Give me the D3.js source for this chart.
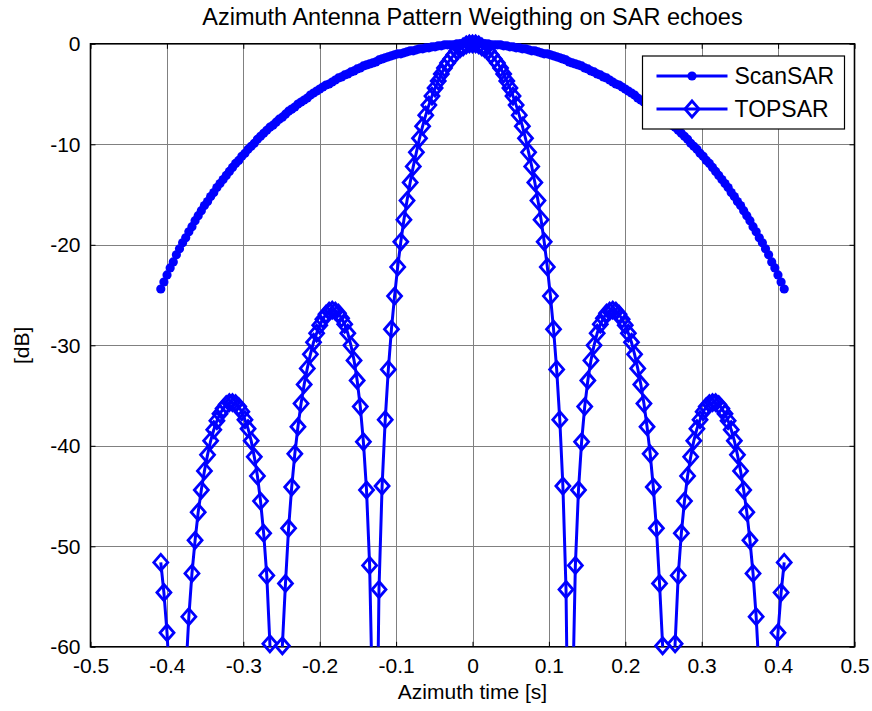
<!DOCTYPE html>
<html>
<head>
<meta charset="utf-8">
<script src="https://d3js.org/d3.v7.min.js"></script>
<style>
body{margin:0;background:#fff;}
svg{display:block;font-family:"Liberation Sans",Arial,Helvetica,sans-serif;}
</style>
</head>
<body>
<script>
//azimuth time samples: first sample and step (s), one value per sample below
var tStart = -0.408, tStep = 0.00408;

//ScanSAR weighting [dB]
var scanSAR = [
  -24.4, -23.7, -23.0, -22.3, -21.7, -21.0, -20.4, -19.8, -19.3, -18.7,
  -18.2, -17.6, -17.1, -16.6, -16.1, -15.7, -15.2, -14.8, -14.3, -13.9,
  -13.5, -13.1, -12.7, -12.3, -11.9, -11.6, -11.2, -10.9, -10.5, -10.2,
  -9.9, -9.5, -9.2, -8.9, -8.6, -8.3, -8.1, -7.8, -7.5, -7.3,
  -7.0, -6.7, -6.5, -6.3, -6.0, -5.8, -5.6, -5.4, -5.1, -4.9,
  -4.7, -4.5, -4.3, -4.1, -4.0, -3.8, -3.6, -3.4, -3.3, -3.1,
  -3.0, -2.8, -2.7, -2.5, -2.4, -2.2, -2.1, -2.0, -1.9, -1.8,
  -1.6, -1.5, -1.4, -1.3, -1.2, -1.1, -1.0, -1.0, -0.9, -0.8,
  -0.7, -0.7, -0.6, -0.5, -0.5, -0.4, -0.4, -0.3, -0.3, -0.2,
  -0.2, -0.1, -0.1, -0.1, -0.1, 0, 0, 0, 0, 0,
  0,
  0, 0, 0, 0, 0, -0.1, -0.1, -0.1, -0.1, -0.2,
  -0.2, -0.3, -0.3, -0.4, -0.4, -0.5, -0.5, -0.6, -0.7, -0.7,
  -0.8, -0.9, -1.0, -1.0, -1.1, -1.2, -1.3, -1.4, -1.5, -1.6,
  -1.8, -1.9, -2.0, -2.1, -2.2, -2.4, -2.5, -2.7, -2.8, -3.0,
  -3.1, -3.3, -3.4, -3.6, -3.8, -4.0, -4.1, -4.3, -4.5, -4.7,
  -4.9, -5.1, -5.4, -5.6, -5.8, -6.0, -6.3, -6.5, -6.7, -7.0,
  -7.3, -7.5, -7.8, -8.1, -8.3, -8.6, -8.9, -9.2, -9.5, -9.9,
  -10.2, -10.5, -10.9, -11.2, -11.6, -11.9, -12.3, -12.7, -13.1, -13.5,
  -13.9, -14.3, -14.8, -15.2, -15.7, -16.1, -16.6, -17.1, -17.6, -18.2,
  -18.7, -19.3, -19.8, -20.4, -21.0, -21.7, -22.3, -23.0, -23.7, -24.4
];

//TOPSAR weighting [dB] (values under -60 fall off the axes)
var topSAR = [
  -51.6, -54.6, -58.6, -64.2, -72.9, -92.6, -90.1, -71.6, -62.8, -57.0,
  -52.7, -49.4, -46.6, -44.4, -42.5, -40.9, -39.5, -38.4, -37.5, -36.8,
  -36.3, -35.9, -35.7, -35.7, -35.8, -36.1, -36.6, -37.4, -38.3, -39.5,
  -41.1, -43.0, -45.5, -48.7, -52.9, -59.7, -69.0, -98.7, -76.0, -59.9,
  -53.7, -48.2, -44.1, -40.8, -38.1, -35.8, -33.9, -32.3, -30.9, -29.7,
  -28.8, -28.0, -27.4, -26.9, -26.6, -26.5, -26.6, -26.8, -27.3, -27.9,
  -28.8, -30.0, -31.5, -33.5, -36.1, -39.6, -44.4, -51.9, -67.0, -79.4,
  -54.3, -44.0, -37.4, -32.4, -28.4, -25.1, -22.2, -19.7, -17.5, -15.6,
  -13.8, -12.2, -10.8, -9.4, -8.2, -7.1, -6.1, -5.2, -4.4, -3.7,
  -3.0, -2.4, -1.9, -1.5, -1.1, -0.7, -0.5, -0.3, -0.1, 0,
  0,
  0, -0.1, -0.3, -0.5, -0.7, -1.1, -1.5, -1.9, -2.4, -3.0,
  -3.7, -4.4, -5.2, -6.1, -7.1, -8.2, -9.4, -10.8, -12.2, -13.8,
  -15.6, -17.5, -19.7, -22.2, -25.1, -28.4, -32.4, -37.4, -44.0, -54.3,
  -79.4, -67.0, -51.9, -44.4, -39.6, -36.1, -33.5, -31.5, -30.0, -28.8,
  -27.9, -27.3, -26.8, -26.6, -26.5, -26.6, -26.9, -27.4, -28.0, -28.8,
  -29.7, -30.9, -32.3, -33.9, -35.8, -38.1, -40.8, -44.1, -48.2, -53.7,
  -59.9, -76.0, -98.7, -69.0, -59.7, -52.9, -48.7, -45.5, -43.0, -41.1,
  -39.5, -38.3, -37.4, -36.6, -36.1, -35.8, -35.7, -35.7, -35.9, -36.3,
  -36.8, -37.5, -38.4, -39.5, -40.9, -42.5, -44.4, -46.6, -49.4, -52.7,
  -57.0, -62.8, -71.6, -90.1, -92.6, -72.9, -64.2, -58.6, -54.6, -51.6
];

var seriesNames = ["ScanSAR", "TOPSAR"];
var xTicks = [-0.5, -0.4, -0.3, -0.2, -0.1, 0, 0.1, 0.2, 0.3, 0.4, 0.5];
var yTicks = [0, -10, -20, -30, -40, -50, -60];

var width = 872, height = 711;
var plotLeft = 90.5, plotRight = 854.5, plotTop = 43.8, plotBottom = 646.8;
var blue = "#0000ff";

var svg = d3.select("body").append("svg")
    .attr("width", width)
    .attr("height", height);

var x = d3.scaleLinear().domain([-0.5, 0.5]).range([plotLeft, plotRight]);
var y = d3.scaleLinear().domain([-60, 0]).range([plotBottom, plotTop]);

//grid lines
svg.append("g").selectAll("line")
    .data(xTicks.slice(1, -1))
    .enter().append("line")
    .attr("x1", function(d){ return Math.round(x(d)) + 0.5; })
    .attr("x2", function(d){ return Math.round(x(d)) + 0.5; })
    .attr("y1", plotTop).attr("y2", plotBottom)
    .attr("stroke", "#808080").attr("stroke-width", 1);
svg.append("g").selectAll("line")
    .data(yTicks.slice(1, -1))
    .enter().append("line")
    .attr("y1", function(d){ return Math.round(y(d)) + 0.5; })
    .attr("y2", function(d){ return Math.round(y(d)) + 0.5; })
    .attr("x1", plotLeft).attr("x2", plotRight)
    .attr("stroke", "#808080").attr("stroke-width", 1);

//axes, ticks pointing inward
var fmt = function(d){ return String(d); };
function styleAxis(g){
    g.select(".domain").remove();
    g.selectAll(".tick line").attr("stroke", "#000").attr("stroke-width", 1);
    g.selectAll("text").attr("fill", "#000").style("font-size", "21px")
        .style("font-family", "'Liberation Sans', Arial, sans-serif");
}
svg.append("g").attr("transform", "translate(0," + plotBottom + ")")
    .call(d3.axisBottom(x).tickValues(xTicks).tickFormat(fmt).tickSizeInner(-5).tickSizeOuter(0).tickPadding(11))
    .call(styleAxis);
svg.append("g").attr("transform", "translate(0," + plotTop + ")")
    .call(d3.axisTop(x).tickValues(xTicks).tickFormat("").tickSizeInner(-5).tickSizeOuter(0))
    .call(styleAxis);
svg.append("g").attr("transform", "translate(" + plotLeft + ",0)")
    .call(d3.axisLeft(y).tickValues(yTicks).tickFormat(fmt).tickSizeInner(-5).tickSizeOuter(0).tickPadding(10))
    .call(styleAxis);
svg.append("g").attr("transform", "translate(" + plotRight + ",0)")
    .call(d3.axisRight(y).tickValues(yTicks).tickFormat("").tickSizeInner(-5).tickSizeOuter(0))
    .call(styleAxis);

//axes box
svg.append("rect")
    .attr("x", plotLeft).attr("y", plotTop)
    .attr("width", plotRight - plotLeft).attr("height", plotBottom - plotTop)
    .attr("fill", "none").attr("stroke", "#000").attr("stroke-width", 1.6);

//clip for the lines
svg.append("clipPath").attr("id", "plotClip")
    .append("rect")
    .attr("x", plotLeft).attr("y", plotTop - 1.5)
    .attr("width", plotRight - plotLeft).attr("height", plotBottom - plotTop + 1.5);

var line = d3.line()
    .x(function(d, i){ return x(tStart + i * tStep); })
    .y(function(d){ return y(d); });

function inRange(d){ return d >= -60 && d <= 0; }
var diamond = "M0,-8L7,0L0,8L-7,0Z";

//ScanSAR: line with dot markers
svg.append("path")
    .datum(scanSAR)
    .attr("clip-path", "url(#plotClip)")
    .attr("d", line)
    .attr("fill", "none").attr("stroke", blue).attr("stroke-width", 3);
svg.append("g").selectAll("circle")
    .data(scanSAR.map(function(d, i){ return {t: tStart + i * tStep, v: d}; }).filter(function(p){ return inRange(p.v); }))
    .enter().append("circle")
    .attr("cx", function(p){ return x(p.t); })
    .attr("cy", function(p){ return y(p.v); })
    .attr("r", 4.6)
    .attr("fill", blue);

//TOPSAR: line with diamond markers
svg.append("path")
    .datum(topSAR)
    .attr("clip-path", "url(#plotClip)")
    .attr("d", line)
    .attr("fill", "none").attr("stroke", blue).attr("stroke-width", 3);
svg.append("g").selectAll("path")
    .data(topSAR.map(function(d, i){ return {t: tStart + i * tStep, v: d}; }).filter(function(p){ return inRange(p.v); }))
    .enter().append("path")
    .attr("transform", function(p){ return "translate(" + x(p.t) + "," + y(p.v) + ")"; })
    .attr("d", diamond)
    .attr("fill", "none").attr("stroke", blue).attr("stroke-width", 2.8)
    .attr("stroke-linejoin", "miter");

//legend
var legend = svg.append("g").attr("transform", "translate(642.5,56)");
legend.append("rect")
    .attr("width", 202).attr("height", 73)
    .attr("fill", "#fff").attr("stroke", "#000").attr("stroke-width", 1.2);
var rows = legend.selectAll(".row")
    .data(seriesNames)
    .enter().append("g")
    .attr("class", "row")
    .attr("transform", function(d, i){ return "translate(0," + (20 + i * 33) + ")"; });
rows.append("line")
    .attr("x1", 14).attr("x2", 85)
    .attr("stroke", blue).attr("stroke-width", 3);
rows.filter(function(d, i){ return i == 0; }).append("circle")
    .attr("cx", 49.5).attr("r", 4.6).attr("fill", blue);
rows.filter(function(d, i){ return i == 1; }).append("path")
    .attr("transform", "translate(49.5,0)")
    .attr("d", diamond)
    .attr("fill", "none").attr("stroke", blue).attr("stroke-width", 2.8);
rows.append("text")
    .attr("x", 92).attr("y", 8)
    .style("font-size", "23px")
    .text(function(d){ return d; });

//title and axis labels
svg.append("text")
    .attr("x", (plotLeft + plotRight) / 2).attr("y", 25)
    .attr("text-anchor", "middle")
    .style("font-size", "23.5px")
    .text("Azimuth Antenna Pattern Weigthing on SAR echoes");
svg.append("text")
    .attr("x", (plotLeft + plotRight) / 2).attr("y", 699)
    .attr("text-anchor", "middle")
    .style("font-size", "21px")
    .text("Azimuth time [s]");
svg.append("text")
    .attr("transform", "translate(29," + (plotTop + plotBottom) / 2 + ") rotate(-90)")
    .attr("text-anchor", "middle")
    .style("font-size", "21px")
    .text("[dB]");
</script>
</body>
</html>
